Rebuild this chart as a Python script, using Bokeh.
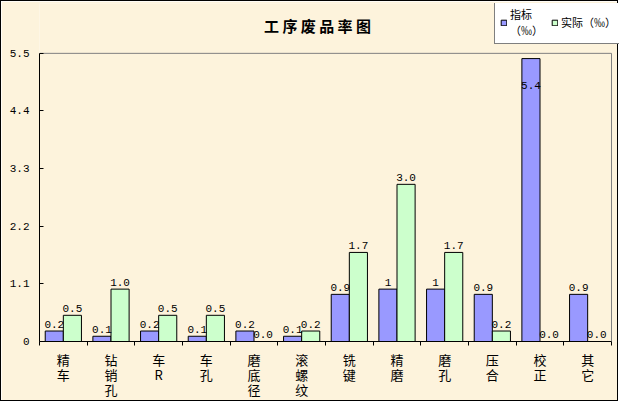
from bokeh.plotting import figure
from bokeh.models import ColumnDataSource, FixedTicker, Legend, LegendItem, Range1d, Label
from bokeh.core.properties import value
from bokeh.embed import file_html
from bokeh.resources import INLINE

categories = ["精\n车", "钻\n销\n孔", "车\nR", "车\n孔", "磨\n底\n径", "滚\n螺\n纹",
              "铣\n键", "精\n磨", "磨\n孔", "压\n合", "校\n正", "其\n它"]
target = [0.2, 0.1, 0.2, 0.1, 0.2, 0.1, 0.9, 1, 1, 0.9, 5.4, 0.9]
actual = [0.5, 1.0, 0.5, 0.5, 0.0, 0.2, 1.7, 3.0, 1.7, 0.2, 0.0, 0.0]
y_ticks = [0, 1.1, 2.2, 3.3, 4.4, 5.5]
series_names = ["指标\n（‰）", "实际（‰）"]
title_text = "工序废品率图"

BG = "#FDF3DC"
BLUE = "#9999FF"
GREEN = "#CCFFCC"
YMAX = 5.5
MONO = "Liberation Mono"
CJK = "Noto Sans CJK SC"

W, H = 618, 401
FL, FT, FB = 38, 2, 341        # frame left / top / bottom in px
PLOT_TOP = 52                   # px where YMAX sits
PLOT_RIGHT = 610                # px where the last category ends

n = len(categories)
centers = [i + 0.5 for i in range(n)]
off = 0.19
bw = 0.38

y_end = YMAX * (FB - FT) / (FB - PLOT_TOP)
x_end = n * (W - FL) / (PLOT_RIGHT - FL)

src_b = ColumnDataSource(dict(
    x=[c - off for c in centers], top=target,
    ly=[v if v + 0.3 < YMAX else v - 0.65 for v in target],
    lab=[f"{v:g}" for v in target]))
src_g = ColumnDataSource(dict(
    x=[c + off for c in centers], top=actual,
    ly=[v if v + 0.3 < YMAX else v - 0.65 for v in actual],
    lab=[f"{v:.1f}" for v in actual]))

p = figure(width=W, height=H, output_backend="svg", toolbar_location=None,
           x_range=Range1d(0, x_end), y_range=Range1d(0, y_end),
           min_border_left=FL, min_border_right=0, min_border_top=FT, min_border_bottom=H - FB)
p.background_fill_color = BG
p.border_fill_color = BG
p.outline_line_color = None
p.grid.visible = False

# plot-area frame (top and right edges, gray)
p.line(x=[0, n, n], y=[YMAX, YMAX, 0], line_color="#808080", line_width=1)

rb = p.vbar(x="x", top="top", width=bw, source=src_b, fill_color=BLUE, line_color="black", line_width=1)
rg = p.vbar(x="x", top="top", width=bw, source=src_g, fill_color=GREEN, line_color="black", line_width=1)

for s in (src_b, src_g):
    p.text(x="x", y="ly", text="lab", source=s, text_align="center", text_baseline="alphabetic",
           y_offset=-7, text_font=value(MONO), text_font_size="11px", text_color="black")

# title
p.add_layout(Label(x=n * 0.486, y=YMAX + (y_end - YMAX) * 0.55, text=" ".join(title_text),
                   text_font=CJK, text_font_size="15px", text_font_style="bold",
                   text_align="center", text_baseline="middle", text_color="black"))

# axes
xa = p.xaxis[0]
xa.bounds = (0, n)
xa.ticker = FixedTicker(ticks=centers, minor_ticks=list(range(n + 1)))
xa.major_label_overrides = {c: lab for c, lab in zip(centers, categories)}
xa.major_tick_line_color = None
xa.major_tick_in = 0
xa.major_tick_out = 0
xa.minor_tick_in = 0
xa.minor_tick_out = 4
xa.minor_tick_line_color = "black"
xa.axis_line_color = "black"
xa.major_label_text_font = CJK
xa.major_label_text_font_size = "13px"
xa.major_label_text_line_height = 0.81
xa.major_label_standoff = 4
xa.major_label_text_color = "black"

ya = p.yaxis[0]
ya.bounds = (0, YMAX)
ya.ticker = FixedTicker(ticks=y_ticks, minor_ticks=[])
ya.major_label_overrides = {t: f"{t:g}" for t in y_ticks}
ya.major_tick_in = 4
ya.major_tick_out = 0
ya.major_tick_line_color = "black"
ya.minor_tick_line_color = None
ya.axis_line_color = "black"
ya.major_label_text_font = MONO
ya.major_label_text_font_size = "11px"
ya.major_label_standoff = 10
ya.major_label_text_color = "black"

legend = Legend(items=[LegendItem(label=series_names[0], renderers=[rb]),
                       LegendItem(label=series_names[1], renderers=[rg])],
                orientation="horizontal", location=(455, FB - 44),
                background_fill_color="white", background_fill_alpha=1,
                border_line_color="black", border_line_width=1,
                label_text_font=CJK, label_text_font_size="11px",
                label_text_color="black",
                label_text_line_height=0.85,
                glyph_width=7, glyph_height=7, padding=5, spacing=8,
                label_standoff=3, margin=0)
p.add_layout(legend, "center")

p.styles = {"border": "1px solid black"}

open("out.html", "w").write(file_html(p, INLINE))
